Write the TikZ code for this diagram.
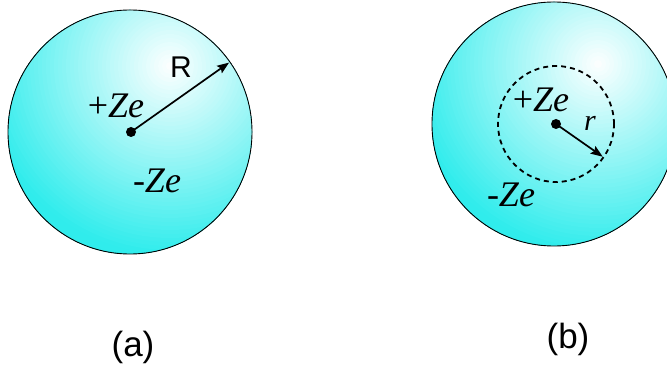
\documentclass[tikz,border=0pt]{standalone}
\usepackage{fontspec}
\setmainfont{Liberation Serif}
\newfontfamily\labfont{Liberation Sans}
\usetikzlibrary{arrows.meta,calc}
\definecolor{ballc}{RGB}{48,236,236}
\tikzset{
  outline/.style={draw=black, line width=0.9pt},
  rarrow/.style={line width=1.7pt, -{Stealth[length=12pt,width=9pt,inset=2pt]}},
  chg/.style={inner sep=0pt, font=\fontsize{36}{38}\selectfont\itshape},
  lab/.style={inner sep=0pt, font=\labfont\fontsize{35}{37}\selectfont},
  dotc/.style={circle, fill=black, inner sep=0pt, minimum size=10pt}
}
\newcommand{\myball}[2]{%
  \begin{scope}
    \clip (#1) circle[radius=122pt];
    \foreach \d in {220,216,...,0} {
      \pgfmathsetmacro{\pp}{min(100,\d/1.9)}
      \fill[ballc!\pp!white] (#2) circle[radius=\d pt];
    }
  \end{scope}
  \draw[outline] (#1) circle[radius=122pt];
}
\begin{document}
\begin{tikzpicture}[x=1pt,y=-1pt]
\useasboundingbox (0,0) rectangle (667,366);
\clip (0,0) rectangle (667,366);
% (a)
\coordinate (ca) at (130,132);
\coordinate (sa) at (170,66);
\myball{ca}{sa}
\node[dotc] (da) at (131,132) {};
\coordinate (ea) at ($(ca)+(35:121pt)$);
\draw[rarrow] (da.center) -- (ea);
\node[inner sep=0pt, font=\labfont\fontsize{30}{32}\selectfont] (Rl) at (181,67) {R};
\node[chg] (pa) at (116,106) {\textup{+}Ze};
\node[chg] (ma) at (157,181) {-Ze};
\node[lab] (la) at (133,347) {(a)};
% (b)
\coordinate (cb) at (554,124);
\coordinate (sb) at (598,64);
\myball{cb}{sb}
\node[dotc] (db) at (556,124) {};
\draw[line width=1.8pt, dash pattern=on 5pt off 4pt] (db.center) circle[radius=58pt];
\coordinate (eb) at ($(db.center)+(-35:57pt)$);
\draw[rarrow] (db.center) -- (eb);
\node[inner sep=0pt, font=\fontsize{30}{32}\selectfont\itshape] (rl) at (590,123) {r};
\node[chg] (pb) at (541,100) {\textup{+}Ze};
\node[chg] (mb) at (511,195) {-Ze};
\node[lab] (lb) at (568,339) {(b)};
\end{tikzpicture}
\end{document}
